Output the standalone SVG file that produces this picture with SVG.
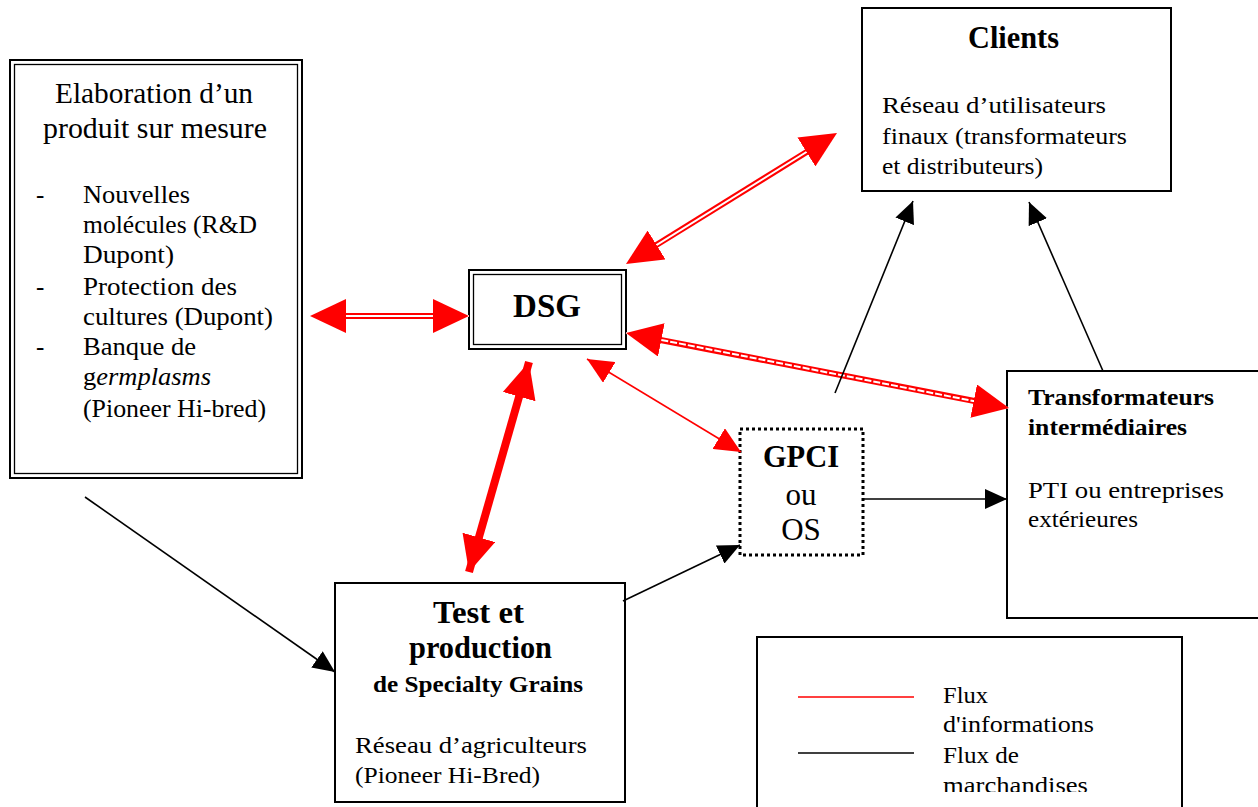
<svg xmlns="http://www.w3.org/2000/svg" width="1258" height="807" viewBox="0 0 1258 807">
<style>
text{font-family:"Liberation Serif","Times New Roman",serif;fill:#000}
text[textLength]{}
.b{font-weight:bold}
.box{fill:#fff;stroke:#000;stroke-width:2}
.thin{fill:none;stroke:#000;stroke-width:1.3}
.blk{fill:none;stroke:#000;stroke-width:1.6;marker-end:url(#ah)}
.red2{fill:none;stroke:#f00;stroke-width:6}
.wht{fill:none;stroke:#fff;stroke-width:2}
</style>
<defs>
<marker id="bigR" markerUnits="userSpaceOnUse" markerWidth="36" markerHeight="34" refX="36" refY="17" orient="auto-start-reverse"><path d="M0,0 L36,17 L0,34 z" fill="#f00"/></marker>
<marker id="smR" markerUnits="userSpaceOnUse" markerWidth="26" markerHeight="24" refX="26" refY="12" orient="auto-start-reverse"><path d="M0,0 L26,12 L0,24 z" fill="#f00"/></marker>
<marker id="ah" markerUnits="userSpaceOnUse" markerWidth="22" markerHeight="20" refX="22" refY="10" orient="auto"><path d="M0,0 L22,10 L0,20 z" fill="#000"/></marker>
<clipPath id="legclip"><rect x="757" y="637" width="425" height="155"/></clipPath>
</defs>

<g id="elaboration">
<rect class="box" x="10" y="60" width="292" height="418" stroke-width="3"/>
<rect class="thin" x="14.5" y="64.5" width="283" height="409"/>
<text x="55" y="103" font-size="29.5" textLength="198" lengthAdjust="spacingAndGlyphs">Elaboration d’un</text>
<text x="43" y="138" font-size="29.5" textLength="224" lengthAdjust="spacingAndGlyphs">produit sur mesure</text>
<g font-size="25">
<text x="36" y="203">-</text>
<text x="83" y="203" textLength="107" lengthAdjust="spacingAndGlyphs">Nouvelles</text>
<text x="83" y="233" textLength="174" lengthAdjust="spacingAndGlyphs">molécules (R&amp;D</text>
<text x="83" y="263" textLength="91" lengthAdjust="spacingAndGlyphs">Dupont)</text>
<text x="36" y="295">-</text>
<text x="83" y="295" textLength="154" lengthAdjust="spacingAndGlyphs">Protection des</text>
<text x="83" y="325" textLength="190" lengthAdjust="spacingAndGlyphs">cultures (Dupont)</text>
<text x="36" y="355">-</text>
<text x="83" y="355" textLength="113" lengthAdjust="spacingAndGlyphs">Banque de</text>
<text x="83" y="385" textLength="128" lengthAdjust="spacingAndGlyphs">g<tspan font-style="italic">ermplasms</tspan></text>
<text x="83" y="417" textLength="183" lengthAdjust="spacingAndGlyphs">(Pioneer Hi-bred)</text>
</g>
</g>

<g id="dsg">
<rect class="box" x="469" y="270" width="157" height="79" stroke-width="3"/>
<rect class="thin" x="473.5" y="274.5" width="148" height="70"/>
<text class="b" x="547" y="317" font-size="33" text-anchor="middle">DSG</text>
</g>

<g id="clients">
<rect class="box" x="862" y="8" width="309" height="183"/>
<text class="b" x="968" y="48" font-size="30.5" textLength="91" lengthAdjust="spacingAndGlyphs">Clients</text>
<g font-size="23">
<text x="882" y="113" textLength="224" lengthAdjust="spacingAndGlyphs">Réseau d’utilisateurs</text>
<text x="882" y="144" textLength="245" lengthAdjust="spacingAndGlyphs">finaux (transformateurs</text>
<text x="882" y="174" textLength="161" lengthAdjust="spacingAndGlyphs">et distributeurs)</text>
</g>
</g>

<g id="gpci">
<rect x="740" y="429" width="123" height="126" fill="#fff" stroke="#000" stroke-width="3" stroke-dasharray="3 3"/>
<text class="b" x="801" y="467" font-size="30.5" text-anchor="middle">GPCI</text>
<text x="801" y="505" font-size="31" text-anchor="middle">ou</text>
<text x="801" y="540" font-size="31" text-anchor="middle">OS</text>
</g>

<g id="transformateurs">
<rect class="box" x="1007" y="371" width="260" height="247"/>
<text class="b" x="1028" y="405" font-size="23.5" textLength="186" lengthAdjust="spacingAndGlyphs">Transformateurs</text>
<text class="b" x="1028" y="435" font-size="23.5" textLength="159" lengthAdjust="spacingAndGlyphs">intermédiaires</text>
<text x="1028" y="498" font-size="23.5" textLength="196" lengthAdjust="spacingAndGlyphs">PTI ou entreprises</text>
<text x="1028" y="527" font-size="23.5" textLength="110" lengthAdjust="spacingAndGlyphs">extérieures</text>
</g>

<g id="test">
<rect class="box" x="335" y="583" width="290" height="219"/>
<text class="b" x="433" y="623" font-size="32" textLength="91" lengthAdjust="spacingAndGlyphs">Test et</text>
<text class="b" x="409" y="658" font-size="32" textLength="143" lengthAdjust="spacingAndGlyphs">production</text>
<text class="b" x="373" y="692" font-size="24" textLength="210" lengthAdjust="spacingAndGlyphs">de Specialty Grains</text>
<text x="355" y="753" font-size="24" textLength="232" lengthAdjust="spacingAndGlyphs">Réseau d’agriculteurs</text>
<text x="355" y="783" font-size="24" textLength="185" lengthAdjust="spacingAndGlyphs">(Pioneer Hi-Bred)</text>
</g>

<g id="legend">
<rect class="box" x="757" y="637" width="425" height="190"/>
<line x1="798" y1="697" x2="914" y2="697" stroke="#f00" stroke-width="1.6"/>
<line x1="798" y1="753" x2="914" y2="753" stroke="#000" stroke-width="1.6"/>
<g font-size="23" clip-path="url(#legclip)">
<text x="943" y="703" textLength="45" lengthAdjust="spacingAndGlyphs">Flux</text>
<text x="943" y="732" textLength="151" lengthAdjust="spacingAndGlyphs">d'informations</text>
<text x="943" y="763" textLength="76" lengthAdjust="spacingAndGlyphs">Flux de</text>
<text x="943" y="793" textLength="145" lengthAdjust="spacingAndGlyphs">marchandises</text>
</g>
</g>

<g id="connectors">
<path class="red2" d="M330,316 L449,316"/>
<path class="wht" d="M310,316 L469,316" marker-start="url(#bigR)" marker-end="url(#bigR)"/>
<path class="red2" d="M645,252 L818,145"/>
<path class="wht" d="M626,264 L837,133" stroke-width="1.5" marker-start="url(#bigR)" marker-end="url(#bigR)"/>
<path class="red2" d="M645,337 L990,404"/>
<path class="wht" d="M626,333 L1009,408" stroke-width="2" stroke-dasharray="7 2" marker-start="url(#bigR)" marker-end="url(#bigR)"/>
<path d="M529,362 L469,572" fill="none" stroke="#f00" stroke-width="8" marker-start="url(#bigR)" marker-end="url(#bigR)"/>
<path d="M587,359 L741,452" fill="none" stroke="#f00" stroke-width="1.5" marker-start="url(#smR)" marker-end="url(#smR)"/>
<path class="blk" d="M835,393 L913,201"/>
<path class="blk" d="M1103,371 L1029,202"/>
<path class="blk" d="M863,499 L1007,499"/>
<path class="blk" d="M85,497 L335,672"/>
<path class="blk" d="M623,601 L740,545"/>
</g>
</svg>
